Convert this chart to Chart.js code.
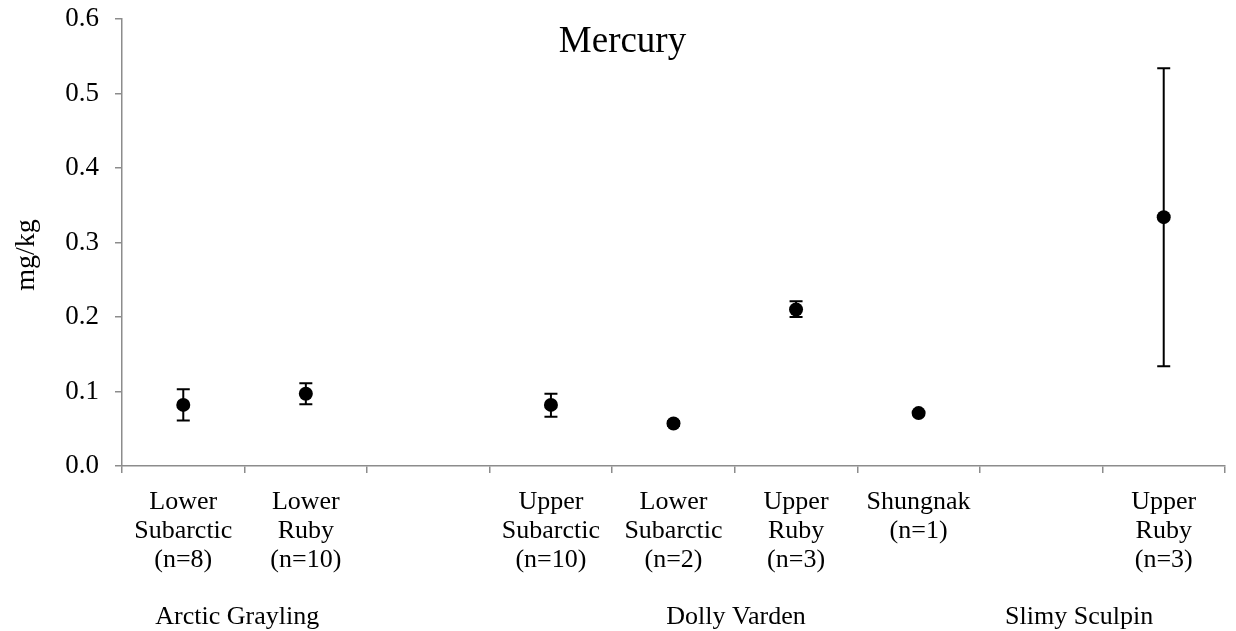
<!DOCTYPE html>
<html>
<head>
<meta charset="utf-8">
<script src="https://cdn.jsdelivr.net/npm/chart.js@4.4.1/dist/chart.umd.min.js"></script>
<style>
html,body{margin:0;padding:0;background:#fff;}
#wrap{width:1236px;height:631px;position:relative;}
</style>
</head>
<body>
<div id="wrap"><canvas id="c" width="1236" height="631"></canvas></div>
<script>
// ---- data ----
const categories = [
  ["Lower", "Subarctic", "(n=8)"],
  ["Lower", "Ruby", "(n=10)"],
  "",
  ["Upper", "Subarctic", "(n=10)"],
  ["Lower", "Subarctic", "(n=2)"],
  ["Upper", "Ruby", "(n=3)"],
  ["Shungnak", "(n=1)"],
  "",
  ["Upper", "Ruby", "(n=3)"]
];
const meanValues = [0.082, 0.097, null, 0.082, 0.057, 0.210, 0.071, null, 0.334];
const lowValues  = [0.061, 0.083, null, 0.066, 0.054, 0.200, null, null, 0.134];
const highValues = [0.103, 0.111, null, 0.097, 0.060, 0.221, null, null, 0.534];
const groupNames = ["Arctic Grayling", "Dolly Varden", "Slimy Sculpin"];
const yTicks = [0, 0.1, 0.2, 0.3, 0.4, 0.5, 0.6];
const chartTitle = "Mercury";
const yTitle = "mg/kg";

// ---- layout (not data) ----
const groupCenters = [0.44, 4.51, 7.31]; // in category index units
const FONT = "'Liberation Serif', 'Times New Roman', serif";
const AXIS_COLOR = "#8c8c8c";

const errorBars = {
  id: 'errorBars',
  afterDatasetsDraw(chart) {
    const ctx = chart.ctx, xs = chart.scales.x, ys = chart.scales.y;
    ctx.save();
    ctx.strokeStyle = '#000';
    ctx.lineWidth = 2;
    for (let i = 0; i < meanValues.length; i++) {
      if (lowValues[i] == null || highValues[i] == null) continue;
      const x = xs.getPixelForValue(i);
      const y1 = ys.getPixelForValue(lowValues[i]);
      const y2 = ys.getPixelForValue(highValues[i]);
      ctx.beginPath();
      ctx.moveTo(x, y1); ctx.lineTo(x, y2);
      ctx.moveTo(x - 6.5, y1); ctx.lineTo(x + 6.5, y1);
      ctx.moveTo(x - 6.5, y2); ctx.lineTo(x + 6.5, y2);
      ctx.stroke();
    }
    ctx.restore();
  }
};

const extraText = {
  id: 'extraText',
  afterDraw(chart) {
    const ctx = chart.ctx, xs = chart.scales.x;
    ctx.save();
    ctx.fillStyle = '#000';
    // title
    ctx.font = "37px " + FONT;
    ctx.textAlign = 'center';
    ctx.textBaseline = 'alphabetic';
    ctx.fillText(chartTitle, 622.5, 52);
    // group labels
    ctx.font = "26px " + FONT;
    ctx.textBaseline = 'middle';
    groupNames.forEach((g, i) => {
      ctx.fillText(g, xs.getPixelForValue(groupCenters[i]), 617);
    });
    // y title
    ctx.translate(27, 255);
    ctx.rotate(-Math.PI / 2);
    ctx.font = "28px " + FONT;
    ctx.fillText(yTitle, 0, 0);
    ctx.restore();
  }
};

new Chart(document.getElementById('c'), {
  type: 'line',
  data: {
    labels: categories,
    datasets: [{
      data: meanValues,
      showLine: false,
      pointRadius: 7,
      pointHoverRadius: 7,
      pointBackgroundColor: '#000',
      pointBorderColor: '#000',
      pointBorderWidth: 0
    }]
  },
  options: {
    responsive: false,
    animation: false,
    layout: { padding: { left: 0, right: 11, top: 19, bottom: 0 } },
    plugins: {
      legend: { display: false },
      tooltip: { enabled: false },
      title: { display: false }
    },
    scales: {
      x: {
        type: 'category',
        offset: true,
        grid: { offset: true, drawOnChartArea: false, drawTicks: true, tickLength: 7, color: AXIS_COLOR, lineWidth: 1.5 },
        border: { color: AXIS_COLOR, width: 1.5 },
        ticks: { color: '#000', font: { family: FONT, size: 26, lineHeight: 1.13 }, padding: 14, maxRotation: 0, minRotation: 0, autoSkip: false },
        afterFit(scale) { scale.height = 631 - 466; scale.paddingLeft = 0; scale.paddingRight = 0; }
      },
      y: {
        min: 0, max: 0.6,
        afterBuildTicks(scale) { scale.ticks = yTicks.map(v => ({ value: v })); },
        grid: { drawOnChartArea: false, drawTicks: true, tickLength: 7, color: AXIS_COLOR, lineWidth: 1.5 },
        border: { color: AXIS_COLOR, width: 1.5 },
        ticks: { color: '#000', font: { family: FONT, size: 27 }, padding: 16, callback: v => Number(v).toFixed(1) },
        afterFit(scale) { scale.width = 122; scale.paddingTop = 0; scale.paddingBottom = 0; }
      }
    }
  },
  plugins: [errorBars, extraText]
});
</script>
</body>
</html>
